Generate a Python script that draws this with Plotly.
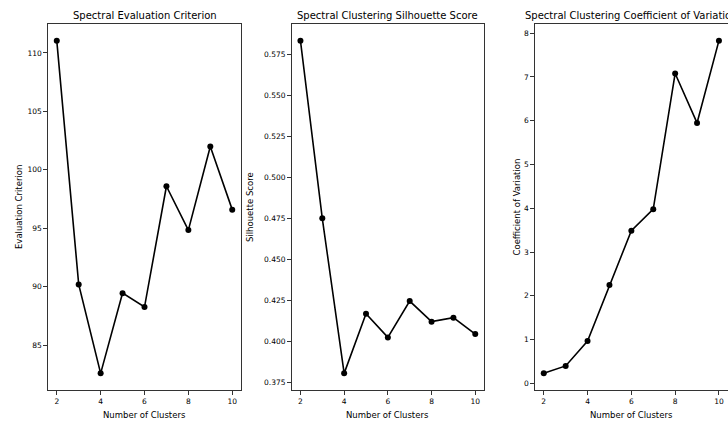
import plotly.graph_objects as go

clusters = [2, 3, 4, 5, 6, 7, 8, 9, 10]
eval_criterion = [111.05, 90.2, 82.6, 89.46, 88.27, 98.6, 94.85, 102.0, 96.6]
silhouette = [0.5832, 0.475, 0.3806, 0.4169, 0.4025, 0.4246, 0.4121, 0.4145, 0.4045]
coef_var = [0.23, 0.40, 0.97, 2.25, 3.49, 3.98, 7.08, 5.95, 7.83]

titles = ["Spectral Evaluation Criterion",
          "Spectral Clustering Silhouette Score",
          "Spectral Clustering Coefficient of Variation"]
ylabels = ["Evaluation Criterion", "Silhouette Score", "Coefficient of Variation"]
xlabel = "Number of Clusters"
x_ticks = [2, 4, 6, 8, 10]
y_ticks = [
    [85, 90, 95, 100, 105, 110],
    [0.375, 0.400, 0.425, 0.450, 0.475, 0.500, 0.525, 0.550, 0.575],
    [0, 1, 2, 3, 4, 5, 6, 7, 8],
]
y_ticktext = [
    [str(v) for v in y_ticks[0]],
    ["%.3f" % v for v in y_ticks[1]],
    [str(v) for v in y_ticks[2]],
]

W, H = 728, 423
px_domains = [(48, 241), (291.7, 484), (535, 727.7)]
top_px, bot_px = 24, 390
ylabel_x = [19, 250, 516.5]

series = [eval_criterion, silhouette, coef_var]

def mpl_range(vals):
    lo, hi = min(vals), max(vals)
    m = (hi - lo) * 0.05
    return [lo - m, hi + m]

fig = go.Figure()
font_family = "DejaVu Sans"
annotations = []
for i, ys in enumerate(series):
    ax = "" if i == 0 else str(i + 1)
    fig.add_trace(go.Scatter(
        x=clusters, y=ys, mode="lines+markers",
        line=dict(color="black", width=1.6),
        marker=dict(color="black", size=6),
        xaxis="x" + ax, yaxis="y" + ax, showlegend=False,
    ))
    d0, d1 = px_domains[i]
    common = dict(showline=True, mirror=True, linecolor="#333", linewidth=1.3,
                  ticks="outside", ticklen=3.5, tickwidth=0.8, tickcolor="#333",
                  showgrid=False, zeroline=False,
                  tickfont=dict(family=font_family, size=7.5, color="black"))
    fig.update_layout(**{
        "xaxis" + ax: dict(domain=[d0 / W, d1 / W], range=[1.6, 10.4],
                           tickvals=x_ticks, anchor="y" + ax, **common),
        "yaxis" + ax: dict(domain=[1 - bot_px / H, 1 - top_px / H],
                           range=mpl_range(ys), tickvals=y_ticks[i],
                           ticktext=y_ticktext[i], anchor="x" + ax, **common),
    })
    cx = (d0 + d1) / 2 / W
    annotations.append(dict(text=titles[i], x=cx, y=1 - 15 / H, xref="paper", yref="paper",
                            showarrow=False, xanchor="center", yanchor="middle",
                            font=dict(family=font_family, size=10, color="black")))
    annotations.append(dict(text=xlabel, x=cx, y=1 - 415 / H, xref="paper", yref="paper",
                            showarrow=False, xanchor="center", yanchor="middle",
                            font=dict(family=font_family, size=8.5, color="black")))
    annotations.append(dict(text=ylabels[i], x=ylabel_x[i] / W, y=1 - (top_px + bot_px) / 2 / H,
                            xref="paper", yref="paper", textangle=-90,
                            showarrow=False, xanchor="center", yanchor="middle",
                            font=dict(family=font_family, size=8.5, color="black")))

fig.update_layout(width=W, height=H, margin=dict(l=0, r=0, t=0, b=0),
                  paper_bgcolor="white", plot_bgcolor="white",
                  annotations=annotations)
fig.write_html("out.html")
